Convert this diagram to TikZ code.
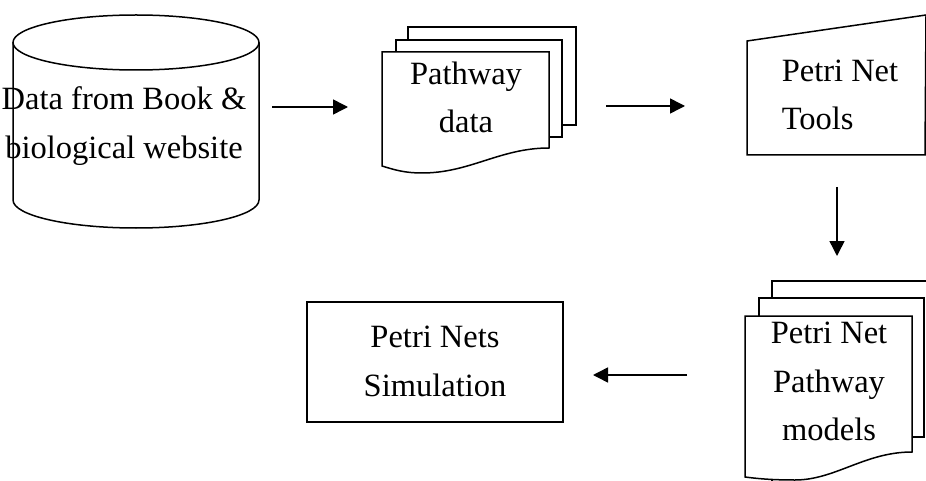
\documentclass[tikz,border=0pt]{standalone}
\usepackage{fontspec}
\setmainfont{Liberation Serif}
\usetikzlibrary{arrows.meta}
\begin{document}
\begin{tikzpicture}[x=1pt,y=-1pt, line width=1.5pt, line join=miter,
  lbl/.style={anchor=base, inner sep=0pt, font=\fontsize{32.5}{39}\selectfont},
  lblw/.style={anchor=base west, inner sep=0pt, font=\fontsize{32.5}{39}\selectfont},
  arr/.style={-{Triangle[length=15pt,width=15pt]}, line width=1.5pt},
  page/.style={draw, fill=white}]
\useasboundingbox (0,0) rectangle (926,481);
\clip (0,0) rectangle (926,481);

% cylinder (database)
\draw (136,42.5) ellipse [x radius=123pt, y radius=27.5pt];
\draw (13,42.5) -- (13,200) .. controls (13,215.5) and (68,228) .. (136,228)
      .. controls (204,228) and (259,215.5) .. (259,200) -- (259,42.5);
\node[lbl] (db1) at (124,110) {Data from Book \&};
\node[lbl] (db2) at (124,159) {biological website};

% pathway data (multi-document)
\draw[page] (408,27) rectangle (576,125);
\draw[page] (396,40) rectangle (562,137);
\draw[page] (382,52) -- (549,52) -- (549,148) .. controls (500,148) and (470,173) .. (422,173)
      .. controls (405,173) and (395,170) .. (382,166) -- cycle;
\node[lbl] (pd1) at (466,85) {Pathway};
\node[lbl] (pd2) at (466,133) {data};

% Petri Net Tools (manual input)
\draw[page] (747,41) -- (926,15) -- (925,155) -- (747,155) -- cycle;
\node[lblw] (pt1) at (781,82) {Petri Net};
\node[lblw] (pt2) at (781,130) {Tools};

% Petri Net Pathway models (multi-document)
\draw[page] (772,281) rectangle (960,520);
\draw[page] (759,298) rectangle (924,437);
\draw[page] (745,316) -- (912,316) -- (912,452) .. controls (865,452) and (835,480) .. (795,480)
      .. controls (775,480) and (760,479) .. (745,477) -- cycle;
\node[lbl] (pm1) at (829,343) {Petri Net};
\node[lbl] (pm2) at (829,392) {Pathway};
\node[lbl] (pm3) at (829,440) {models};

% Petri Nets Simulation (process)
\draw (307,302) rectangle (563,422);
\node[lbl] (ps1) at (435,347) {Petri Nets};
\node[lbl] (ps2) at (435,396) {Simulation};

% arrows
\coordinate (a1s) at (272,107); \coordinate (a1e) at (348,107);
\coordinate (a2s) at (606,106); \coordinate (a2e) at (685,106);
\coordinate (a3s) at (837,187); \coordinate (a3e) at (837,256);
\coordinate (a4s) at (687,375); \coordinate (a4e) at (593,375);
\draw[arr] (a1s) -- (a1e);
\draw[arr] (a2s) -- (a2e);
\draw[arr] (a3s) -- (a3e);
\draw[arr] (a4s) -- (a4e);
\end{tikzpicture}
\end{document}
